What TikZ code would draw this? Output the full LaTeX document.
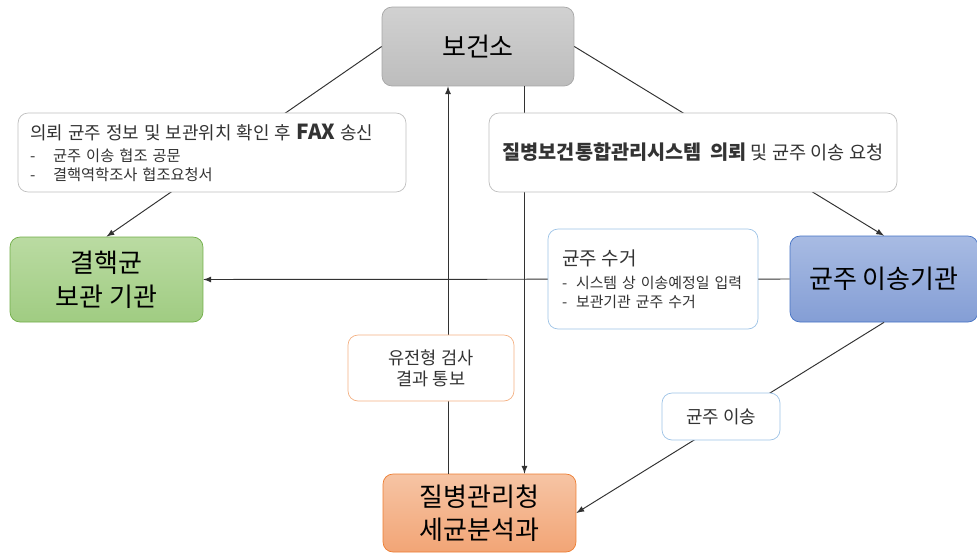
\documentclass[tikz,border=0pt]{standalone}
\usepackage{fontspec}
\setmainfont{Noto Sans CJK KR}
\tikzset{>=latex}
\definecolor{wire}{RGB}{50,50,50}
\definecolor{notegray}{RGB}{191,191,191}
\definecolor{noteblue}{RGB}{157,195,230}
\definecolor{noteorange}{RGB}{244,177,131}
\newcommand{\fsz}[2]{\fontsize{#1}{#2}\selectfont}

\begin{document}
\begin{tikzpicture}[x=0.02cm,y=-0.02cm,
  box/.style={draw,rounded corners=0.2cm,align=center,inner sep=0pt,font=\fsz{14.8}{19.5}},
  note/.style={draw,fill=white,rounded corners=0.2cm,inner sep=0pt,text=black!80},
  link/.style={draw=wire,line width=0.55pt}]
\useasboundingbox (0,0) rectangle (977,552);
% main boxes
\node[box,draw=black!35,top color=black!18,bottom color=black!26,minimum width=3.84cm,minimum height=1.58cm] (bogun) at (478,46.5) {보건소};
\node[box,draw={rgb,255:red,112;green,173;blue,71},top color={rgb,255:red,186;green,219;blue,162},bottom color={rgb,255:red,160;green,204;blue,130},minimum width=3.86cm,minimum height=1.7cm] (store) at (106.5,279.5) {결핵균\\보관 기관};
\node[box,draw={rgb,255:red,68;green,114;blue,196},top color={rgb,255:red,168;green,187;blue,227},bottom color={rgb,255:red,132;green,158;blue,213},minimum width=3.76cm,minimum height=1.72cm] (transfer) at (884,279) {균주 이송기관};
\node[box,draw={rgb,255:red,237;green,125;blue,49},top color={rgb,255:red,246;green,196;blue,164},bottom color={rgb,255:red,242;green,165;blue,118},minimum width=3.86cm,minimum height=1.56cm,font=\fsz{14.8}{18.7}] (lab) at (479.5,513) {질병관리청\\세균분석과};
% connectors
\draw[link,->] (bogun.west) -- (store.north);
\draw[link,->] (bogun.east) -- (transfer.north);
\draw[link,->] ([xshift=-0.63cm]lab.north) -- ([xshift=-0.63cm]lab.north |- bogun.south);
\draw[link,->] ([xshift=0.93cm]bogun.south) -- ([xshift=0.93cm]bogun.south |- lab.north);
\draw[link,->] (transfer.west) -- (store.east);
\draw[link,->] (transfer.south) -- (lab.east);
% labels on the connectors
\node[note,draw=notegray,text width=7.28cm,inner xsep=0.24cm,minimum height=1.58cm,align=left,font=\fsz{8.7}{10.4}] (fax) at (212,152.5) {%
  {\fsz{10.2}{10.4}의뢰 균주 정보 및 보관위치 확인 후 {\fsz{11.8}{10.4}\bfseries FAX} 송신}\\[2.4pt]
  \makebox[0.46cm][l]{-}균주 이송 협조 공문\\
  \makebox[0.46cm][l]{-}결핵역학조사 협조요청서};
\node[note,draw=notegray,minimum width=8.16cm,minimum height=1.58cm] (sys) at (693,152.5) {%
  {\fsz{11.2}{12}\bfseries 질병보건통합관리시스템\ \ 의뢰} {\fsz{10.6}{12}및 균주 이송 요청}};
\node[note,draw=noteblue,text width=3.64cm,inner xsep=0.28cm,minimum height=2cm,align=left,font=\fsz{8.5}{10.8}] (collect) at (653,279) {%
  {\fsz{10.8}{10.8}균주 수거}\\[2.2pt]
  \makebox[0.28cm][l]{-}시스템 상 이송예정일 입력\\
  \makebox[0.28cm][l]{-}보관기관 균주 수거};
\node[note,draw=noteorange,minimum width=3.32cm,minimum height=1.32cm,align=center,font=\fsz{10}{12}] (result) at (431,368) {유전형 검사\\결과 통보};
\node[note,draw=noteblue,minimum width=2.36cm,minimum height=0.94cm,font=\fsz{10.2}{12}] (move) at (721,416.5) {균주 이송};
\end{tikzpicture}
\end{document}
